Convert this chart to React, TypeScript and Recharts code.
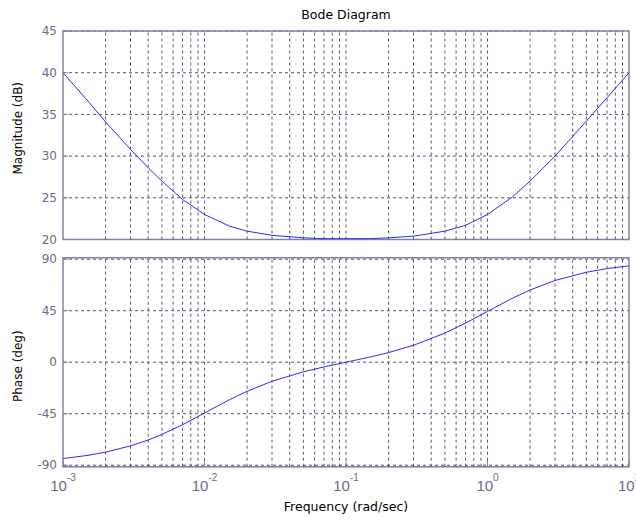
import {
  LineChart,
  Line,
  XAxis,
  YAxis,
  CartesianGrid,
  ReferenceLine,
  ReferenceArea,
} from "recharts";

// frequency samples (rad/sec) with values
const freq = [
  0.001, 0.0015, 0.002, 0.003, 0.004, 0.005, 0.007, 0.01, 0.015, 0.02, 0.03,
  0.05, 0.07, 0.1, 0.15, 0.2, 0.3, 0.5, 0.7, 1, 1.5, 2, 3, 5, 7, 10,
];
const magnitude = [
  40.0, 36.6, 34.1, 30.8, 28.6, 27.0, 24.8, 23.0, 21.6, 21.0, 20.5, 20.2, 20.1,
  20.1, 20.1, 20.2, 20.4, 21.0, 21.7, 23.0, 25.1, 27.0, 30.0, 34.2, 37.0, 40.0,
];
const phase = [
  -84.2, -81.4, -78.6, -73.1, -68.0, -63.1, -54.6, -44.4, -32.8, -25.4, -16.7,
  -8.4, -4.1, 0, 4.7, 8.4, 14.8, 25.4, 34.2, 44.4, 55.9, 63.1, 71.4, 78.6, 81.8,
  84.2,
];

const decadeTicks = [0.001, 0.01, 0.1, 1, 10];
const magTicks = [20, 25, 30, 35, 40, 45];
const phaseTicks = [-90, -45, 0, 45, 90];
const freqDomain = [0.001, 10];
const magDomain = [20, 45];
const phaseDomain = [-91.3, 91.3];

const rows = freq.map((f, i) => ({ freq: f, mag: magnitude[i], phase: phase[i] }));

// log grid: 1..9 in every decade
const gridFreqs = decadeTicks
  .slice(0, -1)
  .flatMap((d) => [1, 2, 3, 4, 5, 6, 7, 8, 9].map((m) => d * m))
  .slice(1);

const axisColor = "#8282a2";
const tickColor = "#6a6a8c";
const gridColor = "#54547e";
const lineColor = "#2a2aff";
const font = "'DejaVu Sans', sans-serif";

const SideTitle = (props: any) => {
  const { viewBox, value, shift } = props;
  const cx = 17.5;
  const cy = viewBox.y + viewBox.height / 2 + shift;
  return (
    <text
      transform={`translate(${cx},${cy}) rotate(-90)`}
      textAnchor="middle"
      dominantBaseline="central"
      fill="#000"
      fontSize={12}
      fontFamily={font}
    >
      {value}
    </text>
  );
};

const LogTick = (props: any) => {
  const { x, y, payload } = props;
  const exp = Math.round(Math.log10(payload.value));
  return (
    <text x={x} y={y} textAnchor="middle" fill={tickColor} fontFamily="'Liberation Sans', Arial, sans-serif">
      <tspan fontSize={15}>10</tspan>
      <tspan fontSize={10} dy={-10}>{`${exp}`}</tspan>
    </text>
  );
};

const tickStyle = { fill: tickColor, fontSize: 12, fontFamily: font };

export default function App() {
  return (
    <div
      style={{
        position: "absolute",
        left: 0,
        top: 0,
        width: 636,
        height: 521,
        background: "#fff",
      }}
    >
      <div style={{ position: "absolute", left: 0, top: 0 }}>
        <LineChart
          width={636}
          height={250}
          data={rows}
          margin={{ top: 0, right: 7, bottom: 10.5, left: 0 }}
        >
          <XAxis
            xAxisId="title"
            orientation="top"
            height={31}
            tick={false}
            axisLine={false}
            tickLine={false}
            label={{
              value: "Bode Diagram",
              position: "insideTop",
              offset: 10,
              fill: "#000",
              fontSize: 12.5,
              fontFamily: font,
            }}
          />
          <XAxis
            dataKey="freq"
            type="number"
            scale="log"
            domain={freqDomain}
            ticks={decadeTicks}
            allowDataOverflow
            hide
          />
          <YAxis
            type="number"
            domain={magDomain}
            ticks={magTicks}
            allowDataOverflow
            width={63}
            axisLine={false}
            tickSize={-5}
            tickMargin={11}
            tickLine={{ stroke: axisColor }}
            tick={tickStyle}
            interval={0}
            label={<SideTitle value="Magnitude (dB)" shift={-7} />}
          />
          <CartesianGrid vertical={false} strokeDasharray="3 3" stroke={gridColor} />
          {gridFreqs.map((f) => (
            <ReferenceLine key={f} x={f} stroke={gridColor} strokeDasharray="3 3" />
          ))}
          <ReferenceArea
            x1={freqDomain[0]}
            x2={freqDomain[1]}
            y1={magDomain[0]}
            y2={magDomain[1]}
            fill="none"
            stroke={axisColor}
            strokeWidth={1.5}
          />
          <Line
            dataKey="mag"
            type="linear"
            stroke={lineColor}
            strokeWidth={1}
            dot={false}
            isAnimationActive={false}
          />
        </LineChart>
      </div>
      <div style={{ position: "absolute", left: 0, top: 250 }}>
        <LineChart
          width={636}
          height={271}
          data={rows}
          margin={{ top: 7.7, right: 7, bottom: 0, left: 0 }}
        >
          <XAxis
            dataKey="freq"
            type="number"
            scale="log"
            domain={freqDomain}
            ticks={decadeTicks}
            allowDataOverflow
            interval={0}
            height={54.3}
            axisLine={false}
            tickSize={-6}
            tickMargin={30}
            tickLine={{ stroke: axisColor }}
            tick={<LogTick />}
            label={{
              value: "Frequency (rad/sec)",
              position: "insideBottom",
              offset: 10,
              fill: "#000",
              fontSize: 12.5,
              fontFamily: font,
            }}
          />
          <YAxis
            type="number"
            domain={phaseDomain}
            ticks={phaseTicks}
            allowDataOverflow
            width={63}
            axisLine={false}
            tickSize={-5}
            tickMargin={11}
            tickLine={{ stroke: axisColor }}
            tick={tickStyle}
            interval={0}
            label={<SideTitle value="Phase (deg)" shift={4} />}
          />
          <CartesianGrid vertical={false} strokeDasharray="3 3" stroke={gridColor} />
          {gridFreqs.map((f) => (
            <ReferenceLine key={f} x={f} stroke={gridColor} strokeDasharray="3 3" />
          ))}
          <ReferenceArea
            x1={freqDomain[0]}
            x2={freqDomain[1]}
            y1={phaseDomain[0]}
            y2={phaseDomain[1]}
            fill="none"
            stroke={axisColor}
            strokeWidth={1.5}
          />
          <Line
            dataKey="phase"
            type="linear"
            stroke={lineColor}
            strokeWidth={1}
            dot={false}
            isAnimationActive={false}
          />
        </LineChart>
      </div>
    </div>
  );
}
